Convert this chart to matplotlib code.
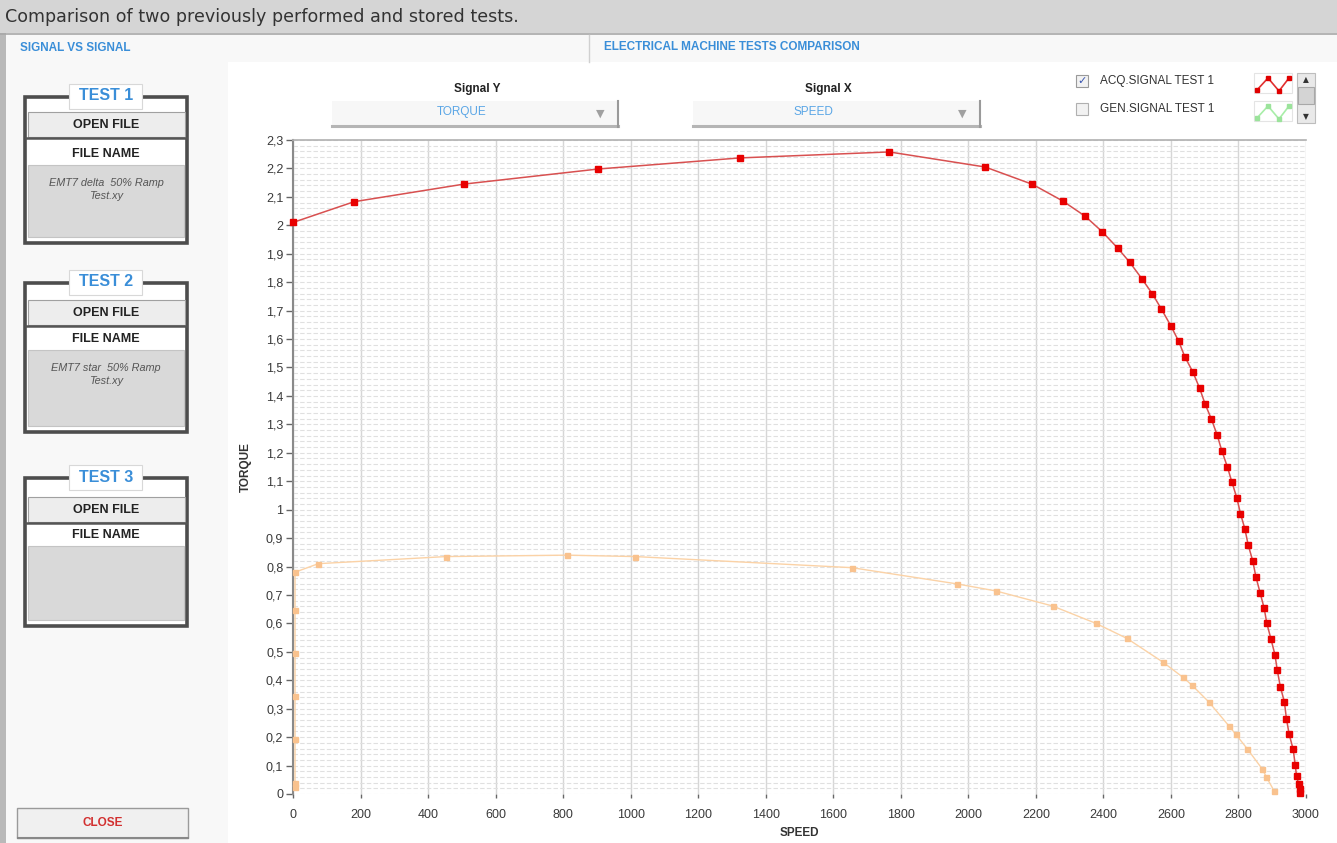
import numpy as np
import matplotlib.pyplot as plt
from matplotlib.patches import Rectangle
from matplotlib.ticker import MultipleLocator, FuncFormatter

# -----------------------------
# Data
# -----------------------------
red_speed = [0, 181, 507, 904, 1324, 1766, 2050, 2190, 2279, 2346, 2396, 2443,
             2478, 2514, 2545, 2572, 2600, 2623, 2641, 2665, 2685, 2701, 2720,
             2737, 2751, 2767, 2780, 2795, 2806, 2819, 2829, 2842, 2852, 2864,
             2876, 2884, 2896, 2908, 2915, 2924, 2936, 2942, 2950, 2962, 2968,
             2972, 2978, 2981, 2983]
red_torque = [2.01, 2.083, 2.145, 2.198, 2.237, 2.258, 2.205, 2.144, 2.086,
              2.032, 1.978, 1.919, 1.870, 1.812, 1.759, 1.705, 1.646, 1.592,
              1.538, 1.484, 1.427, 1.372, 1.318, 1.262, 1.206, 1.151, 1.099,
              1.042, 0.986, 0.932, 0.875, 0.821, 0.762, 0.708, 0.654, 0.600,
              0.546, 0.490, 0.435, 0.377, 0.324, 0.265, 0.211, 0.157, 0.103,
              0.063, 0.035, 0.018, 0.005]

orange_speed = [6, 6, 6, 6, 6, 6, 6, 75, 453, 812, 1013, 1655, 1966, 2082,
                2250, 2378, 2470, 2576, 2636, 2662, 2712, 2772, 2792, 2826,
                2871, 2882, 2905]
orange_torque = [0.025, 0.04, 0.192, 0.346, 0.497, 0.648, 0.78, 0.81, 0.835,
                 0.84, 0.835, 0.796, 0.739, 0.714, 0.661, 0.600, 0.547, 0.464,
                 0.410, 0.383, 0.324, 0.239, 0.210, 0.159, 0.087, 0.061, 0.012]

x_ticks = list(range(0, 3001, 200))
y_ticks = [round(0.1 * i, 1) for i in range(0, 24)]

test_titles = ["TEST 1", "TEST 2", "TEST 3"]
test_files = [["EMT7 delta  50% Ramp", "Test.xy"],
              ["EMT7 star  50% Ramp", "Test.xy"],
              []]

BLUE = "#3a8ed8"
GUI_FONT = "Liberation Sans"

# -----------------------------
# Figure + GUI background (pixel coordinates)
# -----------------------------
W, H = 1337, 843
fig = plt.figure(figsize=(W / 100, H / 100), dpi=100)
bg = fig.add_axes([0, 0, 1, 1], zorder=0)
bg.set_xlim(0, W)
bg.set_ylim(H, 0)
bg.axis("off")

# title bar
bg.add_patch(Rectangle((0, 0), W, 33, fc="#d5d5d5", ec="none"))
bg.text(5, 17, "Comparison of two previously performed and stored tests.",
        fontsize=12.6, color="#333333", va="center", ha="left",
        family="DejaVu Sans")
# panel
bg.add_patch(Rectangle((0, 33), W, H - 33, fc="#f8f8f8", ec="none"))
bg.add_patch(Rectangle((0, 33), 6, H - 33, fc="#b9b9b9", ec="none"))
bg.plot([0, W], [33.5, 33.5], color="#a8a8a8", lw=1.2)
bg.add_patch(Rectangle((228, 62), W - 228, H - 62, fc="white", ec="none"))

bg.text(20, 48, "SIGNAL VS SIGNAL", color=BLUE, fontsize=8.5, weight="bold",
        va="center", family=GUI_FONT)
bg.plot([589, 589], [35, 62], color="#d0d0d0", lw=1)
bg.text(604, 47, "ELECTRICAL MACHINE TESTS COMPARISON", color=BLUE,
        fontsize=8.5, weight="bold", va="center", family=GUI_FONT)

# signal selectors
for cx, lab, val, x0, x1 in [(477, "Signal Y", "TORQUE", 332, 618),
                             (828, "Signal X", "SPEED", 693, 980)]:
    bg.text(cx, 89, lab, fontsize=8.5, weight="bold", ha="center",
            va="center", color="#222", family=GUI_FONT)
    bg.add_patch(Rectangle((x0, 101), x1 - x0, 25, fc="#f7f7f7", ec="none"))
    bg.plot([x0, x1], [126, 126], color="#b5b5b5", lw=2.2)
    bg.plot([x1, x1], [101, 127], color="#9a9a9a", lw=1.5)
    bg.text(cx - 15, 112, val, fontsize=8.5, ha="center", va="center",
            color="#5aa6e6", family=GUI_FONT)
    bg.text(x1 - 18, 114, "\u25bc", fontsize=8, ha="center", va="center",
            color="#a0a0a0", family="DejaVu Sans")

# legend area
bg.add_patch(Rectangle((1076, 75), 12, 12, fc="#f2f2f2", ec="#9a9a9a", lw=0.8))
bg.text(1082, 81, "\u2713", fontsize=8, ha="center", va="center",
        color="#3a55b0", family="DejaVu Sans")
bg.add_patch(Rectangle((1076, 103), 12, 12, fc="#f2f2f2", ec="#b0b0b0", lw=0.8))
bg.text(1100, 81, "ACQ.SIGNAL TEST 1", fontsize=8.5, va="center",
        color="#333", family=GUI_FONT)
bg.text(1100, 109, "GEN.SIGNAL TEST 1", fontsize=8.5, va="center",
        color="#333", family=GUI_FONT)
bg.add_patch(Rectangle((1254, 73), 38, 20, fc="white", ec="#e4e4e4", lw=0.8))
bg.plot([1257, 1268, 1279, 1289], [90, 78, 91, 78], color="#e03030", lw=1.2,
        marker="s", ms=3.5, mfc="#e00000", mec="#e00000")
bg.add_patch(Rectangle((1254, 101), 38, 20, fc="white", ec="#e4e4e4", lw=0.8))
bg.plot([1257, 1268, 1279, 1289], [118, 106, 119, 106], color="#a8eea8",
        lw=1.2, marker="s", ms=3.5, mfc="#9be39b", mec="#9be39b")
bg.add_patch(Rectangle((1297, 73), 18, 50, fc="#e9e9e9", ec="#bdbdbd", lw=0.8))
bg.add_patch(Rectangle((1298, 87), 16, 17, fc="#d4d4d4", ec="#a8a8a8", lw=0.8))
bg.text(1306, 80, "\u25b2", fontsize=5.5, ha="center", va="center",
        color="#333", family="DejaVu Sans")
bg.text(1306, 117, "\u25bc", fontsize=5.5, ha="center", va="center",
        color="#333", family="DejaVu Sans")


def test_box(top, bottom, btn_top, fname_y, gray_top, title, lines):
    bg.add_patch(Rectangle((25, top), 162, bottom - top, fc="white",
                           ec="#4d4d4d", lw=2.6))
    bg.add_patch(Rectangle((28, btn_top), 157, 25, fc="#ededed",
                           ec="#a0a0a0", lw=0.8))
    bg.plot([26, 186], [btn_top + 26, btn_top + 26], color="#555", lw=1.8)
    bg.text(106, btn_top + 13, "OPEN FILE", fontsize=9, weight="bold",
            ha="center", va="center", color="#222", family=GUI_FONT)
    bg.text(106, fname_y, "FILE NAME", fontsize=9, weight="bold",
            ha="center", va="center", color="#222", family=GUI_FONT)
    bg.add_patch(Rectangle((28, gray_top), 156, bottom - 6 - gray_top,
                           fc="#d9d9d9", ec="#c4c4c4", lw=0.8))
    for i, ln in enumerate(lines):
        bg.text(106, gray_top + 18 + 13 * i, ln, fontsize=7.8, style="italic",
                ha="center", va="center", color="#555", family=GUI_FONT)
    bg.add_patch(Rectangle((69, top - 13), 73, 25, fc="white", ec="#d8d8d8",
                           lw=0.8))
    bg.text(106, top - 1, title, fontsize=11.5, weight="bold", ha="center",
            va="center", color=BLUE, family=GUI_FONT)


test_box(97, 243, 112, 154, 165, test_titles[0], test_files[0])
test_box(283, 432, 300, 339, 350, test_titles[1], test_files[1])
test_box(478, 626, 497, 535, 546, test_titles[2], test_files[2])

bg.add_patch(Rectangle((17, 808), 171, 30, fc="#f0f0f0", ec="#9a9a9a", lw=1))
bg.plot([18, 188], [838, 838], color="#888", lw=1.5)
bg.text(103, 823, "CLOSE", fontsize=8.5, weight="bold", ha="center",
        va="center", color="#d23030", family=GUI_FONT)

# -----------------------------
# The graph
# -----------------------------
L, R, T, B = 293, 1306, 140, 794
ax = fig.add_axes([L / W, 1 - B / H, (R - L) / W, (B - T) / H], zorder=2)
ax.set_facecolor("white")
ax.set_xlim(0, 3000)
ax.set_ylim(0, 2.3)

ax.yaxis.set_minor_locator(MultipleLocator(0.02))
ax.set_xticks(x_ticks)
ax.set_yticks(y_ticks)
ax.yaxis.set_major_formatter(FuncFormatter(
    lambda v, p: f"{v:.1f}".rstrip("0").rstrip(".").replace(".", ",")))

ax.grid(axis="x", which="major", color="#d6d6d6", lw=1, ls="-")
ax.grid(axis="y", which="both", color="#e0e0e0", lw=0.8, ls=(0, (4, 2)))
ax.set_axisbelow(True)

for s in ["right", "bottom"]:
    ax.spines[s].set_visible(False)
ax.spines["left"].set_color("#8a8a8a")
ax.spines["left"].set_linewidth(1.5)
ax.spines["top"].set_color("#b0b0b0")
ax.spines["top"].set_linewidth(1.2)

ax.tick_params(axis="y", which="major", length=5, width=1, color="#666",
               labelsize=9, labelcolor="#3a3a3a", pad=2)
ax.tick_params(axis="y", which="minor", length=0)
ax.tick_params(axis="x", length=3, width=1, color="#666", labelsize=9,
               labelcolor="#3a3a3a", pad=8)
for lbl in ax.get_xticklabels() + ax.get_yticklabels():
    lbl.set_family(GUI_FONT)

ax.plot(orange_speed, orange_torque, color="#fbd2a6", lw=1.0, marker="s",
        ms=3.6, mfc="#f9c28e", mec="#f9c28e", clip_on=False, zorder=3)
ax.plot(red_speed, red_torque, color="#d85050", lw=1.1, marker="s",
        ms=4.0, mfc="#e80000", mec="#e80000", clip_on=False, zorder=4)

ax.set_xlabel("SPEED", fontsize=8.5, weight="bold", color="#333",
              family=GUI_FONT, labelpad=4)
ax.set_ylabel("TORQUE", fontsize=8.5, weight="bold", color="#333",
              family=GUI_FONT, labelpad=10)

fig.savefig("out.png", dpi=100)
